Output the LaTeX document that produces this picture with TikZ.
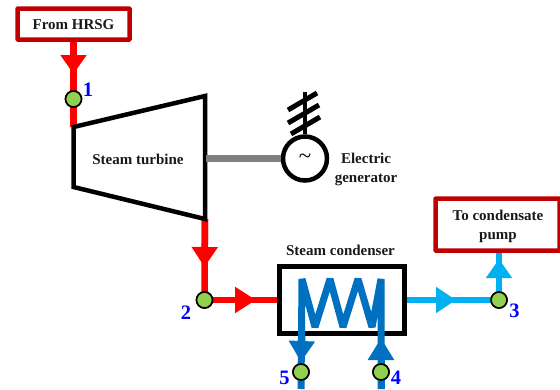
\documentclass[tikz,border=0pt]{standalone}
\usepackage{fontspec}
\setmainfont{Liberation Serif}
\usetikzlibrary{arrows.meta}
\definecolor{hotred}{HTML}{FF0000}
\definecolor{boxred}{HTML}{C00000}
\definecolor{coolblue}{HTML}{0070C0}
\definecolor{skyblue}{HTML}{00B0F0}
\definecolor{statgreen}{HTML}{92D050}
\definecolor{shaftgrey}{HTML}{808080}
\tikzset{
  txt/.style={font=\fontsize{15}{19}\selectfont\bfseries, text=black!90, align=center, inner sep=0pt},
  num/.style={font=\fontsize{20.5}{20.5}\selectfont\bfseries, text=blue, inner sep=0pt},
  endbox/.style={draw=boxred, line width=4.5pt, fill=white, inner sep=0pt, rounded corners=0.6pt},
  hotpipe/.style={draw=hotred, line width=6.5pt},
  coolpipe/.style={draw=coolblue, line width=7pt},
  skypipe/.style={draw=skyblue, line width=6.5pt},
  flowhead/.style={-{Triangle[length=#1,width=25pt]}},
  flowhead/.default=20pt,
  station/.style={circle, draw=black, line width=1.6pt, fill=statgreen, minimum size=16pt, inner sep=0pt},
  machine/.style={draw=black, line width=4.5pt, line join=miter},
}
\begin{document}
\begin{tikzpicture}[x=1pt,y=-1pt]
\useasboundingbox (0,0) rectangle (560,389);
% reference points
\coordinate (tin) at (73.5,127);
\coordinate (tt) at (205,96);
\coordinate (tout) at (205,219);
\coordinate (tb) at (73.5,187);
\coordinate (shaft) at (206,158.5);
\coordinate (tip1) at (73.5,74);
\coordinate (tip2) at (204.5,267);
\coordinate (tip3) at (256,300);
\coordinate (tip4) at (456,300);
\coordinate (tip5) at (499,259);
\coordinate (tip6) at (301,362);
\coordinate (tip7) at (381,338);
\coordinate (bot5) at (301,389);
\coordinate (bot4) at (381,389);
\coordinate (c0) at (302,279);
\coordinate (c1) at (315,327);
\coordinate (c2) at (330,279);
\coordinate (c3) at (343,327);
\coordinate (c4) at (358,279);
\coordinate (c5) at (372,327);
\coordinate (c6) at (381,279);
% end boxes and condenser
\node[endbox, minimum width=112pt, minimum height=31pt] (hrsg) at (73.5,24) {};
\node[txt] (hrsglbl) at (73.5,25) {From HRSG};
\node[endbox, minimum width=124pt, minimum height=52pt] (pump) at (497.5,224.5) {};
\node[txt] (pumplbl) at (498,226) {To condensate\\pump};
\node[draw=black, line width=4.5pt, fill=white, minimum width=125pt, minimum height=67pt, inner sep=0pt] (cond) at (342,300) {};
\node[txt] (condlbl) at (340.5,250.5) {Steam condenser};
% generator
\node[circle, draw=black, line width=4.5pt, fill=white, minimum size=44pt, inner sep=0pt] (gen) at (305,158.5) {};
\node[inner sep=0pt, font=\fontsize{23}{23}\selectfont] (til) at (305,158.5) {\char`\~};
\node[txt] (genlbl) at (366,169) {Electric\\generator};
% pipes with mid-flow heads
\draw[hotpipe] (hrsg.south) -- (tin);
\draw[hotpipe, flowhead=19pt] (hrsg.south) -- (tip1);
\draw[hotpipe] (tout) -- (204.5,300);
\draw[hotpipe, flowhead=20pt] (tout) -- (tip2);
\node[station] (p1) at (73.5,99) {};
\node[station] (p2) at (204.5,300) {};
\node[station] (p3) at (499,300) {};
\node[station] (p4) at (381,372) {};
\node[station] (p5) at (301,372) {};
\draw[hotpipe] (p2.center) -- (cond.west);
\draw[hotpipe, flowhead=21pt] (p2.center) -- (tip3);
\draw[skypipe] (cond.east) -- (p3.center);
\draw[skypipe, flowhead=20pt] (cond.east) -- (tip4);
\draw[skypipe] (p3.center) -- (pump.south -| p3.center);
\draw[skypipe, flowhead=19pt] (p3.center) -- (tip5);
\draw[coolpipe, line join=bevel] (bot5) -- (c0) -- (c1) -- (c2) -- (c3) -- (c4) -- (c5) -- (c6) -- (bot4);
\draw[coolpipe, flowhead=21pt] (c0 |- cond.south) -- (tip6);
\draw[coolpipe, flowhead=22pt] (bot4) -- (tip7);
% redraw stations above the pipes
\node[station] at (p1) {};
\node[station] at (p2) {};
\node[station] at (p3) {};
\node[station] at (p4) {};
\node[station] at (p5) {};
% turbine
\draw[machine, fill=white] (tin) -- (tt) -- (tout) -- (tb) -- cycle;
\node[txt] (turblbl) at (138,159.5) {Steam turbine};
% shaft
\draw[draw=shaftgrey, line width=6.5pt] (shaft) -- (gen.west);
% antenna
\draw[line width=4.5pt] (gen.north) -- (305,92);
\draw[line width=5pt] (288,110) -- (317,93);
\draw[line width=5pt] (288,123) -- (319,105);
\draw[line width=5pt] (291,134) -- (320,117);
% numbers
\node[num] (n1) at (88,90) {1};
\node[num] (n2) at (186,313) {2};
\node[num] (n3) at (514.5,311) {3};
\node[num] (n4) at (396,378) {4};
\node[num] (n5) at (284.5,378) {5};
\end{tikzpicture}
\end{document}
